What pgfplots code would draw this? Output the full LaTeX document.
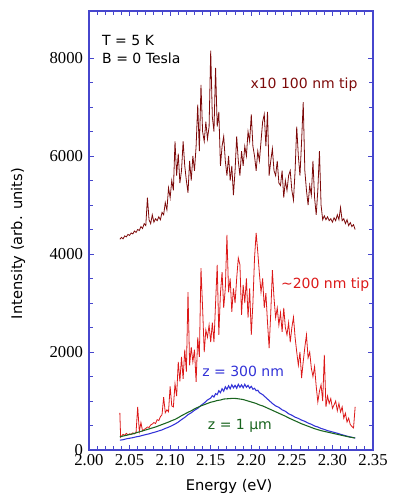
\documentclass[border=0pt]{standalone}
\usepackage{pgfplots}
\pgfplotsset{compat=1.18}
\usepackage{fontspec}
\setmainfont{Liberation Serif}
\newfontfamily\vfont{DejaVu Sans}
\newfontfamily\tfont{Liberation Serif}
\definecolor{axblue}{RGB}{70,70,205}
\definecolor{dred}{RGB}{125,10,10}
\definecolor{bred}{RGB}{220,25,25}
\definecolor{cblue}{RGB}{50,50,215}
\definecolor{cgreen}{RGB}{25,100,30}
\begin{document}
\begin{tikzpicture}
\useasboundingbox (0,0) rectangle (300pt,375pt);
\begin{axis}[
  at={(66.75pt,37.5pt)}, anchor=south west,
  scale only axis, width=213pt, height=329.25pt,
  xmin=2.00, xmax=2.35, ymin=0, ymax=8960,
  xtick={2.00,2.05,2.10,2.15,2.20,2.25,2.30,2.35},
  xticklabels={\tfont 2.00,\tfont 2.05,\tfont 2.10,\tfont 2.15,\tfont 2.20,\tfont 2.25,\tfont 2.30,\tfont 2.35},
  ytick={0,2000,4000,6000,8000},
  yticklabels={\tfont 0,\tfont 2000,\tfont 4000,\tfont 6000,\tfont 8000},
  minor x tick num=4, minor y tick num=3,
  tick align=inside,
  major tick length=4pt, minor tick length=3pt,
  axis line style={axblue, line width=0.8pt},
  every tick/.style={axblue, line width=0.7pt},
  tick label style={font=\tfont\fontsize{12.5}{14}\selectfont},
  yticklabel style={xshift=-1pt},
  xlabel={Energy (eV)},
  ylabel={Intensity (arb. units)},
  xlabel style={font=\vfont\fontsize{11}{13}\selectfont, at={(axis description cs:0.493,-0.084)}, anchor=center},
  ylabel style={font=\vfont\fontsize{11}{13}\selectfont, at={(axis description cs:-0.25,0.47)}, anchor=center},
  clip=true,
]
% x10 100 nm tip
\addplot[dred, line width=0.6pt] coordinates {
(2.038,4300)(2.040,4340)(2.042,4310)(2.044,4370)(2.046,4350)(2.048,4400)(2.050,4380)(2.052,4430)(2.054,4410)(2.056,4470)
(2.058,4440)(2.060,4500)(2.062,4480)(2.064,4560)(2.066,4520)(2.068,4620)(2.070,4580)(2.072,5150)(2.074,4700)(2.076,4620)
(2.078,4800)(2.080,4650)(2.082,4720)(2.084,4680)(2.086,4760)(2.088,4700)(2.090,4850)(2.092,4800)(2.094,5050)(2.096,4900)
(2.098,5350)(2.100,5150)(2.102,5500)(2.104,5300)(2.106,6300)(2.108,5600)(2.110,6050)(2.112,5450)(2.114,5700)(2.116,6300)
(2.118,5800)(2.120,5500)(2.122,5250)(2.124,5900)(2.126,5500)(2.128,6000)(2.130,5700)(2.132,6200)(2.134,7050)(2.136,6100)
(2.138,7450)(2.140,6500)(2.142,6300)(2.144,6700)(2.146,6350)(2.148,6600)(2.150,8150)(2.152,6800)(2.154,6500)(2.156,7800)
(2.158,6600)(2.160,6900)(2.162,5800)(2.164,6200)(2.166,6400)(2.168,5900)(2.170,5600)(2.172,6000)(2.174,5500)(2.176,5800)
(2.178,5200)(2.180,5700)(2.182,6400)(2.184,5900)(2.186,5600)(2.188,6100)(2.190,5800)(2.192,6200)(2.194,6000)(2.196,6500)
(2.198,6300)(2.200,6850)(2.202,6200)(2.204,6000)(2.206,5700)(2.208,6100)(2.210,5900)(2.212,6300)(2.214,6700)(2.216,6850)
(2.218,6200)(2.220,6900)(2.222,5600)(2.224,5900)(2.226,6150)(2.228,5700)(2.230,5600)(2.232,5900)(2.234,5450)(2.236,5400)
(2.238,5700)(2.240,5150)(2.242,5500)(2.244,5300)(2.246,5600)(2.248,5700)(2.250,5300)(2.252,5100)(2.254,5700)(2.256,6600)
(2.258,6000)(2.260,5600)(2.262,6300)(2.264,7100)(2.266,5700)(2.268,5300)(2.270,5000)(2.272,5400)(2.274,5200)(2.276,5900)
(2.278,5150)(2.280,4800)(2.282,5300)(2.284,6100)(2.286,5000)(2.288,4700)(2.290,4780)(2.292,4700)(2.294,4760)(2.296,4680)
(2.298,4720)(2.300,4650)(2.302,4740)(2.304,4680)(2.306,4800)(2.308,4700)(2.310,4950)(2.312,4680)(2.314,4720)(2.316,4620)
(2.318,4700)(2.320,4580)(2.322,4640)(2.324,4560)(2.326,4600)(2.328,4500)
};
% ~200 nm tip
\addplot[bred, line width=0.6pt] coordinates {
(2.038,760)(2.039,260)(2.040,280)(2.042,320)(2.044,300)(2.046,340)(2.048,310)(2.050,330)(2.052,320)(2.054,350)(2.056,330)
(2.058,360)(2.060,880)(2.062,380)(2.064,560)(2.066,390)(2.068,420)(2.070,440)(2.072,470)(2.074,460)(2.076,510)
(2.078,530)(2.080,560)(2.082,540)(2.084,620)(2.086,600)(2.088,680)(2.090,720)(2.092,1080)(2.094,760)(2.096,820)
(2.098,780)(2.100,1300)(2.102,900)(2.104,880)(2.106,1350)(2.108,1100)(2.110,1800)(2.112,1400)(2.114,1900)(2.116,1450)
(2.118,2050)(2.120,1600)(2.122,3220)(2.124,1730)(2.126,2100)(2.128,1800)(2.130,2050)(2.132,1390)(2.134,2300)(2.136,1900)
(2.138,3710)(2.140,2900)(2.142,2000)(2.144,2450)(2.146,2300)(2.148,2550)(2.150,2200)(2.152,2600)(2.154,2200)(2.156,3000)
(2.158,3780)(2.160,2350)(2.162,3200)(2.164,3630)(2.166,2900)(2.168,3300)(2.170,4390)(2.172,3220)(2.174,3500)(2.176,2820)
(2.178,3300)(2.180,3000)(2.182,3500)(2.184,3920)(2.186,3780)(2.188,2760)(2.190,3370)(2.192,3000)(2.194,3500)(2.196,2700)
(2.198,3300)(2.200,2350)(2.202,3000)(2.204,3920)(2.206,4430)(2.208,4040)(2.210,3600)(2.212,3220)(2.214,3500)(2.216,2900)
(2.218,3200)(2.220,2600)(2.222,2080)(2.224,2800)(2.226,3670)(2.228,3100)(2.230,2700)(2.232,2900)(2.234,2550)(2.236,2800)
(2.238,2410)(2.240,2900)(2.242,2500)(2.244,2350)(2.246,2600)(2.248,2200)(2.250,2500)(2.252,2710)(2.254,2300)(2.256,2000)
(2.258,1730)(2.260,2000)(2.262,1470)(2.264,1800)(2.266,2100)(2.268,2350)(2.270,1880)(2.272,2000)(2.274,1670)(2.276,1500)
(2.278,1700)(2.280,1300)(2.282,980)(2.284,1200)(2.286,1330)(2.288,1000)(2.290,1940)(2.292,880)(2.294,1100)(2.296,950)
(2.298,1050)(2.300,850)(2.302,920)(2.304,1000)(2.306,800)(2.308,950)(2.310,775)(2.312,880)(2.314,650)(2.316,750)
(2.318,570)(2.320,650)(2.322,520)(2.324,480)(2.326,450)(2.328,880)
};
% z = 300 nm
\addplot[cblue, line width=0.8pt] coordinates {
(2.038,200)(2.042,210)(2.046,228)(2.050,240)(2.054,252)(2.058,268)(2.062,280)(2.066,298)(2.070,315)(2.074,330)
(2.078,350)(2.082,368)(2.086,390)(2.090,410)(2.094,440)(2.098,465)(2.102,495)(2.106,530)(2.110,570)(2.114,620)
(2.118,665)(2.122,720)(2.126,760)(2.130,810)(2.134,850)(2.138,910)(2.142,960)(2.146,1020)(2.150,1060)(2.152,1110)(2.154,1080)
(2.156,1150)(2.158,1130)(2.160,1210)(2.162,1170)(2.164,1250)(2.166,1200)(2.168,1290)(2.170,1240)(2.172,1310)(2.174,1250)(2.176,1330)
(2.178,1270)(2.180,1320)(2.182,1260)(2.184,1340)(2.186,1280)(2.188,1330)(2.190,1270)(2.192,1340)(2.194,1280)(2.196,1320)
(2.198,1260)(2.200,1300)(2.202,1240)(2.204,1260)(2.206,1210)(2.208,1220)(2.210,1170)(2.214,1130)(2.218,1070)(2.222,1010)(2.226,950)(2.230,900)(2.234,870)
(2.238,820)(2.242,790)(2.246,740)(2.250,710)(2.254,670)(2.258,645)(2.262,610)(2.266,585)(2.270,550)(2.274,525)
(2.278,490)(2.282,470)(2.286,440)(2.290,420)(2.294,395)(2.298,378)(2.302,360)(2.306,342)(2.310,320)(2.314,302)
(2.318,282)(2.322,266)(2.328,245)
};
% z = 1 um
\addplot[cgreen, line width=0.8pt] coordinates {
(2.038,270)(2.042,285)(2.046,300)(2.050,315)(2.054,330)(2.058,350)(2.062,370)(2.066,390)(2.070,410)(2.074,430)
(2.078,450)(2.082,470)(2.086,495)(2.090,520)(2.094,545)(2.098,570)(2.102,600)(2.106,625)(2.110,660)(2.114,700)
(2.118,735)(2.122,770)(2.126,800)(2.130,840)(2.134,870)(2.138,900)(2.142,925)(2.146,950)(2.150,975)(2.154,990)
(2.158,1010)(2.162,1020)(2.166,1040)(2.170,1045)(2.174,1050)(2.178,1055)(2.182,1050)(2.186,1040)(2.190,1030)(2.194,1010)
(2.198,990)(2.202,970)(2.206,950)(2.210,920)(2.214,900)(2.218,870)(2.222,840)(2.226,810)(2.230,780)(2.234,750)
(2.238,720)(2.242,690)(2.246,655)(2.250,625)(2.254,595)(2.258,565)(2.262,535)(2.266,510)(2.270,485)(2.274,460)
(2.278,435)(2.282,415)(2.286,395)(2.290,380)(2.294,365)(2.298,350)(2.302,335)(2.306,320)(2.310,305)(2.314,290)
(2.318,275)(2.322,262)(2.328,245)
};
\node[anchor=west, font=\vfont\fontsize{10.5}{12}\selectfont, inner sep=0pt] at (axis cs:2.016,8350) {T = 5 K};
\node[anchor=west, font=\vfont\fontsize{10.5}{12}\selectfont, inner sep=0pt] at (axis cs:2.016,8000) {B = 0 Tesla};
\node[anchor=center, text=dred, font=\vfont\fontsize{10.5}{12}\selectfont, inner sep=0pt] at (axis cs:2.265,7450) {x10 100 nm tip};
\node[anchor=center, text=bred, font=\vfont\fontsize{10.5}{12}\selectfont, inner sep=0pt] at (axis cs:2.291,3370) {\textasciitilde 200 nm tip};
\node[anchor=center, text=cblue, font=\vfont\fontsize{10.5}{12}\selectfont, inner sep=0pt] at (axis cs:2.190,1610) {z = 300 nm};
\node[anchor=center, text=cgreen, font=\vfont\fontsize{10.5}{12}\selectfont, inner sep=0pt] at (axis cs:2.186,490) {z = 1 μm};
\end{axis}
\end{tikzpicture}
\end{document}
